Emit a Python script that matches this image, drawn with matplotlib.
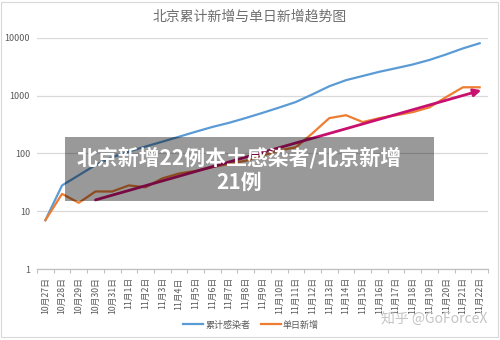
import matplotlib
matplotlib.use("Agg")
import matplotlib.pyplot as plt
from matplotlib.patches import Rectangle
from matplotlib.ticker import FixedLocator, NullLocator

plt.rcParams['font.family'] = ['Noto Sans CJK SC', 'DejaVu Sans']

# 日期
dates = ['10月27日', '10月28日', '10月29日', '10月30日', '10月31日'] + \
        ['11月%d日' % d for d in range(1, 23)]

# 累计感染者
cumulative = [7, 28, 42, 63, 86, 108, 132, 160, 195, 238, 288, 340, 412, 505,
              625, 780, 1060, 1460, 1860, 2200, 2600, 3000, 3480, 4170, 5200,
              6600, 8100]
# 单日新增
daily = [7, 20, 14, 22, 22, 28, 26, 37, 45, 50, 58, 66, 75, 92, 113, 128, 225,
         410, 460, 350, 410, 460, 520, 630, 950, 1400, 1400]

# 趋势箭头的起止点 (日期序号, 数值)
trend_start = (3, 15.7)
trend_end = (26.1, 1245)

blue = '#5B9BD5'
orange = '#ED7D31'
grey = '#595959'

fig = plt.figure(figsize=(5, 3.4), dpi=100)
ax = fig.add_axes([0.074, 0.2088, 0.902, 0.6795])

x = range(len(dates))
ax.plot(x, cumulative, color=blue, lw=1.6, label='累计感染者', zorder=3)
ax.plot(x, daily, color=orange, lw=1.6, label='单日新增', zorder=3)

ax.annotate('', xy=trend_end, xytext=trend_start,
            arrowprops=dict(arrowstyle='-|>', color='#C8106E', lw=2,
                            mutation_scale=11, shrinkA=0, shrinkB=0),
            zorder=4)

ax.set_yscale('log')
ax.set_ylim(1, 10000)
ax.set_xlim(-0.5, len(dates) - 0.5)

ax.yaxis.set_major_locator(FixedLocator([1, 10, 100, 1000, 10000]))
ax.yaxis.set_minor_locator(NullLocator())
ax.set_yticklabels(['1', '10', '100', '1000', '10000'])
ax.tick_params(axis='y', length=0, pad=5, labelsize=6.5, labelcolor=grey)

ax.set_xticks(list(x))
ax.set_xticklabels(dates, rotation=90)
ax.xaxis.set_minor_locator(FixedLocator([i - 0.5 for i in range(len(dates) + 1)]))
ax.tick_params(axis='x', which='major', length=0, pad=6, labelsize=6.3,
               labelcolor=grey)
ax.tick_params(axis='x', which='minor', length=3, color='#BFBFBF', width=0.8)

ax.grid(axis='y', color='#D9D9D9', lw=0.9)
ax.set_axisbelow(True)
for side in ['top', 'right', 'left']:
    ax.spines[side].set_visible(False)
ax.spines['bottom'].set_color('#BFBFBF')
ax.spines['bottom'].set_linewidth(0.9)

fig.text(0.5, 0.95, '北京累计新增与单日新增趋势图', ha='center', va='center',
         fontsize=10, color='#6E6E6E')

fig.legend(loc='center', bbox_to_anchor=(0.502, 0.044), ncol=2, frameon=False,
           fontsize=6.5, labelcolor=grey, handlelength=2.2, handletextpad=0.2,
           columnspacing=1.2)

# 外框
fig.patches.append(Rectangle((0.002, 0.009), 0.994, 0.986, transform=fig.transFigure,
                             fill=False, edgecolor='#D9D9D9', lw=0.8))

# 半透明标题条
fig.patches.append(Rectangle((0.13, 0.409), 0.738, 0.188, transform=fig.transFigure,
                             facecolor='black', alpha=0.4, edgecolor='none',
                             zorder=5))
fig.text(0.478, 0.5, '北京新增22例本土感染者/北京新增\n21例', ha='center',
         va='center', multialignment='center', fontsize=15, fontweight='bold',
         color='white', linespacing=1.2, zorder=6)

fig.text(0.974, 0.058, '知乎 @GoForceX', ha='right', va='center', fontsize=10,
         color='#C4C4C4', zorder=6)

fig.savefig('out.png', dpi=100)
